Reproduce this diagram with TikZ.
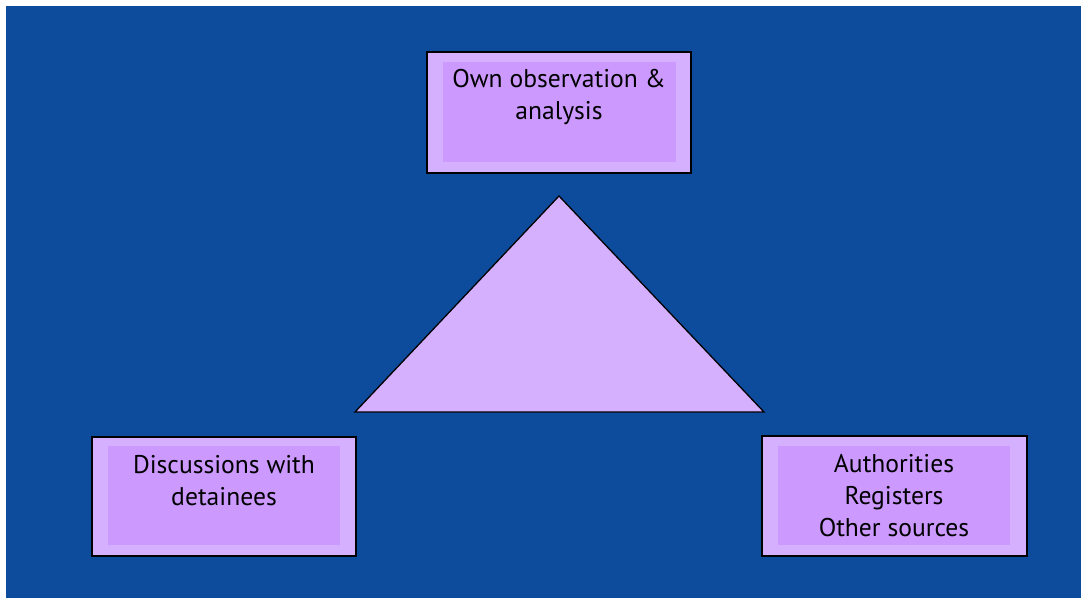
\documentclass[tikz,border=0pt]{standalone}
\usepackage{fontspec}
\setmainfont{PT Sans}
\definecolor{bgblue}{HTML}{0D4C9C}
\definecolor{lightlilac}{HTML}{D4B0FF}
\definecolor{lilac}{HTML}{CC99FF}
\tikzset{
  outerbox/.style={draw=black, line width=1.4pt, fill=lightlilac, inner sep=0pt},
  innerbox/.style={fill=lilac, inner sep=0pt},
  boxtext/.style={align=center, anchor=base, inner sep=0pt,
    font=\fontsize{25.6}{32}\selectfont}
}
\begin{document}
\begin{tikzpicture}[x=1pt, y=-1pt]
\useasboundingbox (0,0) rectangle (1081,599);
\fill[white] (0,0) rectangle (1081,599);
\fill[bgblue] (6,6) rectangle (1081,598);
% top box
\node[outerbox, minimum width=264, minimum height=121] (obsframe) at (559,112.5){};
\node[innerbox, minimum width=233, minimum height=100] (obsfill) at (559.5,112){};
\node[boxtext] (obs) at (559,120){Own observation \&\\analysis};
% left box
\node[outerbox, minimum width=264, minimum height=119] (discframe) at (224,496.5){};
\node[innerbox, minimum width=232, minimum height=99] (discfill) at (224,495.5){};
\node[boxtext] (disc) at (224,505){Discussions with\\detainees};
% right box
\node[outerbox, minimum width=265, minimum height=120] (authframe) at (894.5,496){};
\node[innerbox, minimum width=232, minimum height=99] (authfill) at (894,495.5){};
\node[boxtext] (auth) at (894,536){Authorities\\Registers\\Other sources};
% triangle
\coordinate (apex) at (559,196);
\coordinate (baseleft) at (355,412);
\coordinate (baseright) at (764,412);
\draw[line width=1.3pt, fill=lightlilac, line join=miter] (apex) -- (baseright) -- (baseleft) -- cycle;
\end{tikzpicture}
\end{document}
